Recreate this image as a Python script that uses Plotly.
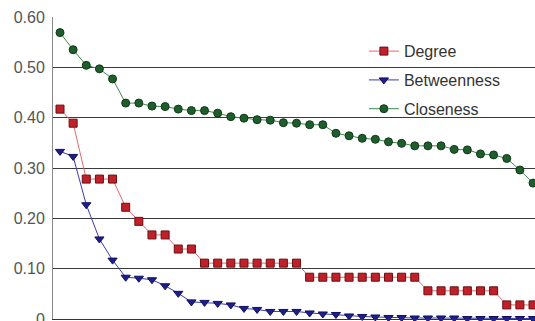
import plotly.graph_objects as go

nodes = list(range(1, 38))

degree = [0.417, 0.389, 0.278, 0.278, 0.278, 0.222, 0.194, 0.167, 0.167, 0.139, 0.139,
          0.111, 0.111, 0.111, 0.111, 0.111, 0.111, 0.111, 0.111,
          0.083, 0.083, 0.083, 0.083, 0.083, 0.083, 0.083, 0.083, 0.083,
          0.056, 0.056, 0.056, 0.056, 0.056, 0.056,
          0.028, 0.028, 0.028]

betweenness = [0.333, 0.323, 0.227, 0.159, 0.117, 0.083, 0.081, 0.078, 0.066, 0.051,
               0.034, 0.033, 0.031, 0.028, 0.021, 0.019, 0.015, 0.015, 0.015, 0.012,
               0.010, 0.009, 0.006, 0.005, 0.004, 0.003, 0.003, 0.002, 0.002, 0.002,
               0.002, 0.001, 0.001, 0.001, 0.001, 0.001, 0.001]

closeness = [0.569, 0.535, 0.504, 0.497, 0.477, 0.429, 0.429, 0.423, 0.422, 0.417,
             0.414, 0.414, 0.409, 0.402, 0.399, 0.396, 0.395, 0.390, 0.389, 0.386,
             0.386, 0.369, 0.364, 0.359, 0.357, 0.352, 0.349, 0.344, 0.344, 0.344,
             0.337, 0.336, 0.328, 0.326, 0.319, 0.296, 0.270]

y_tickvals = [0, 0.1, 0.2, 0.3, 0.4, 0.5, 0.6]
y_ticktext = ["0", "0.10", "0.20", "0.30", "0.40", "0.50", "0.60"]

fig = go.Figure()
fig.add_trace(go.Scatter(
    x=nodes, y=degree, name="Degree", mode="lines+markers", legendgroup="a",
    line=dict(color="#E06A6A", width=1),
    marker=dict(symbol="square", size=8, color="#C0202A", line=dict(color="#6A1010", width=1)),
    cliponaxis=False,
))
fig.add_trace(go.Scatter(
    x=nodes, y=betweenness, name="Betweenness", mode="lines+markers", legendgroup="b",
    line=dict(color="#3A3AB0", width=1),
    marker=dict(symbol="triangle-down", size=8, color="#1E1E8C", line=dict(color="#10105A", width=1)),
    cliponaxis=False,
))
fig.add_trace(go.Scatter(
    x=nodes, y=closeness, name="Closeness", mode="lines+markers", legendgroup="c",
    line=dict(color="#3C8C4A", width=1),
    marker=dict(symbol="circle", size=8, color="#1F5E2C", line=dict(color="#0F3A18", width=1)),
    cliponaxis=False,
))

fig.update_layout(
    width=535, height=321,
    margin=dict(l=53, r=0, t=17, b=2),
    paper_bgcolor="white", plot_bgcolor="white",
    font=dict(family="Liberation Sans, Arial, sans-serif", size=16, color="#444"),
    legend=dict(
        x=0.645, y=0.943, xanchor="left", yanchor="top",
        traceorder="grouped", tracegroupgap=5,
        font=dict(size=16, color="#333"),
        bgcolor="rgba(0,0,0,0)", itemwidth=30,
    ),
    xaxis=dict(
        range=[0.467, 37.15], showgrid=False, zeroline=False, automargin=False,
        showticklabels=False, showline=True, linecolor="#333", linewidth=1, ticks="",
    ),
    yaxis=dict(
        range=[0, 0.6], tickvals=y_tickvals, ticktext=y_ticktext, automargin=False,
        showgrid=True, gridcolor="#3a3a3a", gridwidth=1, zeroline=False,
        showline=True, linecolor="#888", linewidth=1, ticks="", ticklabelstandoff=4,
        ticklabeloverflow="allow",
        tickfont=dict(size=16, color="#555"),
    ),
)

fig.write_html(
    "out.html",
    config={"displayModeBar": False},
    post_script="document.body.style.margin='0';document.documentElement.style.overflow='hidden';",
)
